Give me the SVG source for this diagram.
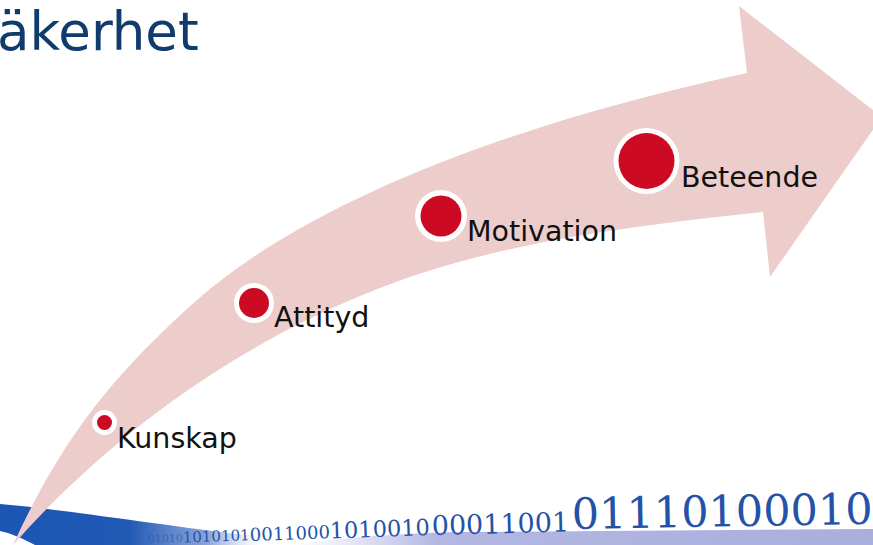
<svg xmlns="http://www.w3.org/2000/svg" width="873" height="545" viewBox="0 0 873 545">
<defs>
<style>
.lbl{font-family:"DejaVu Sans","Verdana",sans-serif;font-size:28.5px;fill:#111}
.ring{fill:#ffffff}
.dot{fill:#cc0a23}
.bin{font-family:"DejaVu Serif","Liberation Serif",serif;fill:#2552a8}
</style>
<linearGradient id="band" gradientUnits="userSpaceOnUse" x1="0" y1="0" x2="260" y2="0">
<stop offset="0" stop-color="#1b56b4"/>
<stop offset="0.5" stop-color="#2159b4"/>
<stop offset="0.8" stop-color="#5a7fca" stop-opacity="0.7"/>
<stop offset="1" stop-color="#9fb2e0" stop-opacity="0"/>
</linearGradient>
<linearGradient id="lav" gradientUnits="userSpaceOnUse" x1="290" y1="0" x2="873" y2="0">
<stop offset="0" stop-color="#c8cbec" stop-opacity="0"/>
<stop offset="0.25" stop-color="#b3b7e2"/>
<stop offset="1" stop-color="#a9aedd"/>
</linearGradient>
</defs>
<rect width="873" height="545" fill="#ffffff"/>
<text id="title" x="-3" y="50" font-family="DejaVu Sans, Verdana, sans-serif" font-size="53" fill="#103c6d">äkerhet</text>
<g id="binary-strip">
<path d="M0,504 C60,509 130,521 260,537 L260,545 L35,545 C22,538 10,533 0,531 Z" fill="url(#band)"/>
<path d="M290,545 C340,538 400,533 460,532 L873,529 L873,545 Z" fill="url(#lav)"/>
<text class="bin" x="148" y="543" font-size="11" opacity="0.6" transform="rotate(-2 148 543)">01010</text>
<text class="bin" x="183" y="542.5" font-size="15" transform="rotate(-2 183 542.5)">1010101</text>
<text class="bin" x="250" y="541" font-size="18" transform="rotate(-2 250 541)">0011000</text>
<text class="bin" x="330" y="538.5" font-size="22.5" transform="rotate(-2 330 538.5)">1010010</text>
<text class="bin" x="432" y="535" font-size="27" transform="rotate(-1.5 432 535)">00011001</text>
<text class="bin" x="572" y="529" font-size="43" transform="rotate(-1 572 529)">0111010001011</text>
</g>
<path id="arrow" d="M13,545 C63,436 115,373 197,300 C325,188 551,115 747,73 L739,6 L882,117 L770,277 L763,212 C633,226 501,241 380,288 C240,342 112,433 13,545 Z" fill="#edcdcc"/>
<g id="node-kunskap">
<circle class="ring" cx="104.5" cy="422.5" r="12.5"/>
<circle class="dot" cx="104.5" cy="422.5" r="7.5"/>
<text class="lbl" x="117" y="448">Kunskap</text>
</g>
<g id="node-attityd">
<circle class="ring" cx="254" cy="303" r="20"/>
<circle class="dot" cx="254" cy="303" r="15"/>
<text class="lbl" x="274" y="327">Attityd</text>
</g>
<g id="node-motivation">
<circle class="ring" cx="441" cy="216" r="26"/>
<circle class="dot" cx="441" cy="216" r="20.5"/>
<text class="lbl" x="467" y="241">Motivation</text>
</g>
<g id="node-beteende">
<circle class="ring" cx="646.5" cy="161" r="33"/>
<circle class="dot" cx="646.5" cy="161" r="28"/>
<text class="lbl" x="681" y="187">Beteende</text>
</g>
</svg>
